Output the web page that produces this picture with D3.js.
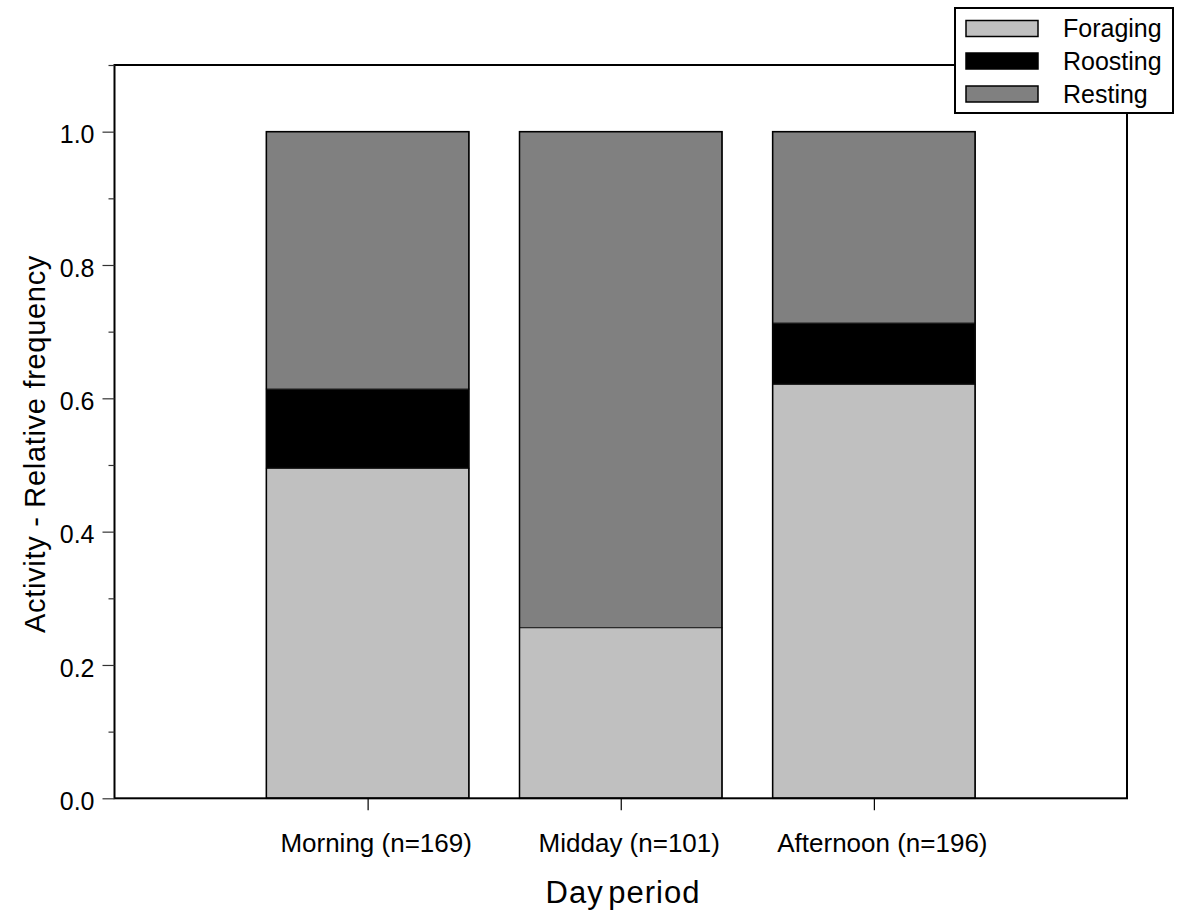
<!DOCTYPE html>
<html>
<head>
<meta charset="utf-8">
<script src="https://cdn.jsdelivr.net/npm/d3@7"></script>
<style>
  html, body { margin: 0; padding: 0; background: #fff; }
  svg text { font-family: "Liberation Sans", Arial, sans-serif; fill: #000; }
</style>
</head>
<body>
<svg id="chart" width="1179" height="916"></svg>
<script>
// Day periods with sample sizes
const periods = ["Morning (n=169)", "Midday (n=101)", "Afternoon (n=196)"];
// Relative frequency of each activity per period
const foraging = [0.495, 0.256, 0.621];
const roosting = [0.119, 0.0, 0.092];
const resting  = [0.386, 0.744, 0.287];

const activities = ["Foraging", "Roosting", "Resting"];
const activityColors = ["#c0c0c0", "#000000", "#808080"];

const yMajorTicks = [0.0, 0.2, 0.4, 0.6, 0.8, 1.0];
const yMinorTicks = [0.1, 0.3, 0.5, 0.7, 0.9, 1.1];

const svg = d3.select("#chart");

const plot = { left: 114.5, right: 1127, top: 65, bottom: 798.3 };

const x = d3.scalePoint()
  .domain(periods)
  .range([plot.left, plot.right])
  .padding(1);
const barWidth = x.step() * 0.8;

const y = d3.scaleLinear()
  .domain([0, 1.1])
  .range([plot.bottom, plot.top]);

const color = d3.scaleOrdinal().domain(activities).range(activityColors);

// Stack the three activity series
const rows = periods.map((p, i) => ({
  period: p,
  Foraging: foraging[i],
  Roosting: roosting[i],
  Resting: resting[i]
}));
const stacked = d3.stack().keys(activities)(rows);

const g = svg.append("g");

// Bars
g.selectAll("g.layer")
  .data(stacked)
  .join("g")
  .attr("class", "layer")
  .attr("fill", d => color(d.key))
  .selectAll("rect")
  .data(d => d.filter(s => s[1] - s[0] > 0))
  .join("rect")
  .attr("x", d => x(d.data.period) - barWidth / 2)
  .attr("width", barWidth)
  .attr("y", d => y(d[1]))
  .attr("height", d => y(d[0]) - y(d[1]))
  .attr("stroke", "#222")
  .attr("stroke-width", 1);

// Outline of each whole bar
g.selectAll("rect.outline")
  .data(rows)
  .join("rect")
  .attr("class", "outline")
  .attr("x", d => x(d.period) - barWidth / 2)
  .attr("width", barWidth)
  .attr("y", d => y(d.Foraging + d.Roosting + d.Resting))
  .attr("height", d => y(0) - y(d.Foraging + d.Roosting + d.Resting))
  .attr("fill", "none")
  .attr("stroke", "#000")
  .attr("stroke-width", 1.5);

// Plot frame
svg.append("rect")
  .attr("x", plot.left)
  .attr("y", plot.top)
  .attr("width", plot.right - plot.left)
  .attr("height", plot.bottom - plot.top)
  .attr("fill", "none")
  .attr("stroke", "#000")
  .attr("stroke-width", 2);

// Y axis: major ticks with labels
const yAxis = d3.axisLeft(y)
  .tickValues(yMajorTicks)
  .tickSize(12)
  .tickPadding(8)
  .tickFormat(d3.format(".1f"));
const yAxisG = svg.append("g")
  .attr("transform", `translate(${plot.left},0)`)
  .call(yAxis);
yAxisG.select(".domain").remove();
yAxisG.selectAll(".tick line").attr("stroke", "#333").attr("stroke-width", 1.2);
yAxisG.selectAll(".tick text")
  .attr("font-size", 25)
  .attr("dy", "0.45em")
  .style("font-family", '"Liberation Sans", Arial, sans-serif');

// Y axis: minor ticks
const yMinor = d3.axisLeft(y)
  .tickValues(yMinorTicks)
  .tickSize(6)
  .tickFormat("");
const yMinorG = svg.append("g")
  .attr("transform", `translate(${plot.left},0)`)
  .call(yMinor);
yMinorG.select(".domain").remove();
yMinorG.selectAll(".tick line").attr("stroke", "#333").attr("stroke-width", 1.2);

// X axis: ticks pointing down with period labels
const xAxis = d3.axisBottom(x)
  .tickSize(12)
  .tickPadding(20);
const xAxisG = svg.append("g")
  .attr("transform", `translate(0,${plot.bottom})`)
  .call(xAxis);
xAxisG.select(".domain").remove();
xAxisG.selectAll(".tick line").attr("stroke", "#000").attr("stroke-width", 1.2);
xAxisG.selectAll(".tick text")
  .attr("font-size", 26)
  .attr("y", 0)
  .attr("dy", 0)
  .attr("transform", "translate(8,53.5)")
  .style("font-family", '"Liberation Sans", Arial, sans-serif');

// Axis titles
svg.append("text")
  .attr("x", 623)
  .attr("y", 903)
  .attr("text-anchor", "middle")
  .attr("font-size", 31)
  .attr("letter-spacing", 1)
  .attr("word-spacing", -5)
  .text("Day period");

svg.append("text")
  .attr("transform", "translate(45,444) rotate(-90)")
  .attr("text-anchor", "middle")
  .attr("font-size", 29)
  .attr("letter-spacing", 0.7)
  .text("Activity - Relative frequency");

// Legend
const legend = svg.append("g");
legend.append("rect")
  .attr("x", 955)
  .attr("y", 8)
  .attr("width", 218)
  .attr("height", 105)
  .attr("fill", "#fff")
  .attr("stroke", "#000")
  .attr("stroke-width", 2);

const legendRowY = [28.5, 61, 94];
const legendItems = legend.selectAll("g.item")
  .data(activities)
  .join("g")
  .attr("class", "item")
  .attr("transform", (d, i) => `translate(0,${legendRowY[i]})`);

legendItems.append("rect")
  .attr("x", 966)
  .attr("y", -8)
  .attr("width", 72)
  .attr("height", 16)
  .attr("fill", d => color(d))
  .attr("stroke", "#000")
  .attr("stroke-width", 1.5);

legendItems.append("text")
  .attr("x", 1063)
  .attr("y", 8.5)
  .attr("font-size", 25)
  .text(d => d);
</script>
</body>
</html>
